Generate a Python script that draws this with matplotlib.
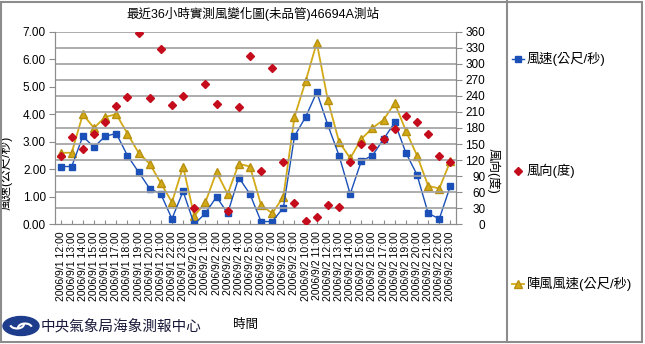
import matplotlib
matplotlib.use("Agg")
import matplotlib.pyplot as plt
import pandas as pd
from matplotlib.patches import Rectangle, Ellipse, Arc
from matplotlib.lines import Line2D

plt.rcParams['font.family'] = ['Liberation Sans', 'Noto Sans CJK TC', 'DejaVu Sans']

# hourly observations, 2006/9/1 12:00 .. 2006/9/2 23:00
times = pd.date_range("2006-09-01 12:00", "2006-09-02 23:00", freq="h")
time_labels = [f"{t.year}/{t.month}/{t.day} {t.hour}:00" for t in times]

speed = [2.1, 2.1, 3.2, 2.8, 3.2, 3.3, 2.5, 1.9, 1.3, 1.1, 0.2, 1.2,
         0.0, 0.4, 1.0, 0.4, 1.7, 1.1, 0.1, 0.1, 0.6, 3.2, 3.9, 4.8,
         3.6, 2.5, 1.1, 2.3, 2.5, 3.1, 3.7, 2.6, 1.8, 0.4, 0.2, 1.4]
gust = [2.6, 2.6, 4.0, 3.5, 3.9, 4.0, 3.3, 2.6, 2.2, 1.5, 0.8, 2.1,
        0.3, 0.8, 1.9, 1.1, 2.2, 2.1, 0.7, 0.4, 1.0, 3.9, 5.2, 6.6,
        4.5, 3.0, 2.4, 3.1, 3.5, 3.8, 4.4, 3.4, 2.5, 1.4, 1.3, 2.3]
direction = [128, 164, 140, 168, 192, 222, 238, 357, 237, 327, 223, 240,
             30, 262, 225, 25, 219, 315, 100, 293, 116, 40, 6, 14,
             36, 32, 117, 150, 144, 159, 179, 202, 191, 169, 128, 117]

title = "最近36小時實測風變化圖(未品管)46694A測站"
lbl_speed = "風速(公尺/秒)"
lbl_dir = "風向(度)"
lbl_gust = "陣風風速(公尺/秒)"

c_blue = '#1a50b8'
c_red = '#c40c1c'
c_gold = '#d2aa18'
grey = '#8c8c8c'

style_speed = dict(color=c_blue, lw=1.0, marker='s', ms=4.2, mfc=c_blue, mec=c_blue)
style_dir = dict(ls='none', marker='D', ms=4.2, mfc=c_red, mec=c_red)
style_gust = dict(color=c_gold, lw=1.3, marker='^', ms=6, mfc=c_gold, mec='#b89010')

W, H = 645, 344
fig = plt.figure(figsize=(W / 100, H / 100), dpi=100)
ax = fig.add_axes([55 / W, 1 - 224.3 / H, 401 / W, 192.6 / H])
ax2 = ax.twinx()

x = range(len(times))
ax.plot(x, gust, zorder=3, **style_gust)
ax.plot(x, speed, zorder=4, **style_speed)
ax2.plot(x, direction, zorder=5, **style_dir)

ax.set_xlim(-0.5, len(times) - 0.5)
ax.set_ylim(0, 7)
ax2.set_ylim(0, 360)
ax.set_yticks(range(0, 8))
ax.set_yticklabels([f"{v:.2f}" for v in range(0, 8)])
ax2.set_yticks(range(0, 361, 30))
ax2.set_yticklabels([str(v) for v in range(0, 361, 30)], ha='right')

ax.set_xticks(list(x))
ax.set_xticklabels(time_labels, rotation=90, fontsize=7.5)

# grid follows the direction axis
for v in range(30, 361, 30):
    ax2.axhline(v, color='#a0a0a0', lw=1.2, zorder=0)
ax2.set_zorder(ax.get_zorder() + 1)
ax2.patch.set_visible(False)

for a in (ax, ax2):
    for s in a.spines.values():
        s.set_color(grey)
    a.spines['top'].set_visible(False)
ax.tick_params(axis='y', direction='out', length=4, pad=2.5, labelsize=8.5, color=grey)
ax2.tick_params(axis='y', direction='out', length=4, pad=17, labelsize=8.5, color=grey)
ax.tick_params(axis='x', direction='in', length=3, pad=5, color=grey)

ax.set_ylabel(lbl_speed, fontsize=9)
ax.yaxis.set_label_coords(-0.106, 0.265)
ax2.set_ylabel(lbl_dir, fontsize=9, rotation=-90, va='center')
ax2.yaxis.set_label_coords(1.0915, 0.277)

fig.text(253 / W, 1 - 14 / H, title, ha='center', va='center', fontsize=9)
fig.text(245 / W, 1 - 325 / H, "時間", ha='center', va='center', fontsize=9)

# legend column on the right, marker in the middle of a short line
for yp, text, style in [(59, lbl_speed, style_speed),
                        (171, lbl_dir, style_dir),
                        (284, lbl_gust, style_gust)]:
    yf = 1 - yp / H
    fig.add_artist(Line2D([512 / W, 518 / W, 524 / W], [yf, yf, yf], markevery=[1],
                          transform=fig.transFigure, **style))
    fig.text(527 / W, yf, text, ha='left', va='center', fontsize=9.5)

# outer frame and separator
fig.add_artist(Rectangle((1 / W, 2.5 / H), 640.5 / W, 340 / H, fill=False, ec=grey, lw=1.5,
                         transform=fig.transFigure))
fig.add_artist(Line2D([507 / W, 507 / W], [2.5 / H, 1 - 1 / H], color=grey, lw=1.5,
                      transform=fig.transFigure))

# logo and agency name
fig.add_artist(Ellipse((21 / W, 1 - 326 / H), 36 / W, 19 / H, color='#1e3c8c',
                       transform=fig.transFigure))
fig.add_artist(Arc((17 / W, 1 - 324 / H), 14 / W, 9 / H, theta1=200, theta2=360, color='white', lw=1.5,
                   transform=fig.transFigure))
fig.add_artist(Arc((25 / W, 1 - 328 / H), 14 / W, 9 / H, theta1=20, theta2=180, color='white', lw=1.5,
                   transform=fig.transFigure))
fig.text(41 / W, 1 - 326 / H, "中央氣象局海象測報中心", ha='left', va='center', fontsize=10.5,
         color='#1a1a3a')

fig.savefig("out.png", dpi=100)
